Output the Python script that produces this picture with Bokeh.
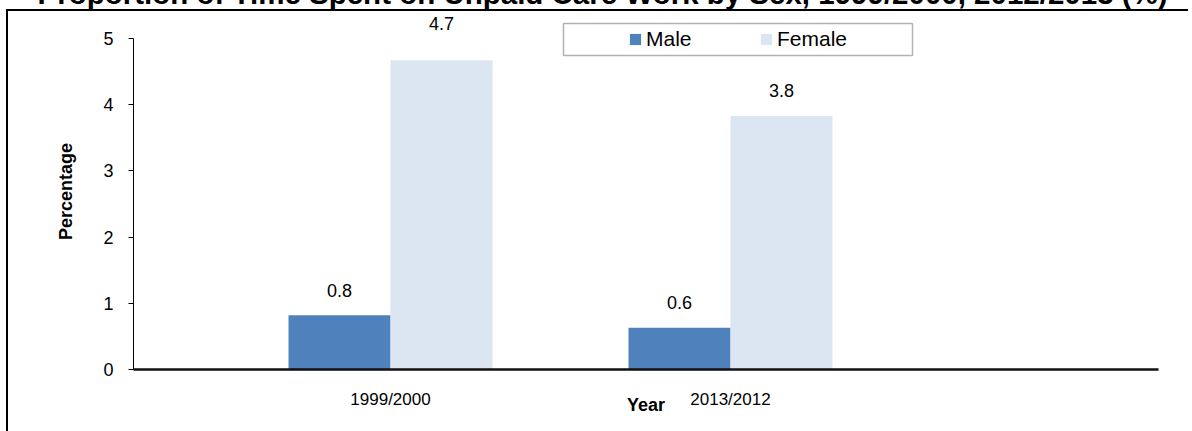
from bokeh.plotting import figure
from bokeh.models import (ColumnDataSource, Range1d, FixedTicker, Legend, LegendItem,
                          BoxAnnotation)
from bokeh.transform import dodge
from bokeh.embed import file_html
from bokeh.resources import INLINE

# ---- data ----
years = ["1999/2000", "2013/2012"]
male = [0.82, 0.63]
female = [4.67, 3.83]
male_labels = ["0.8", "0.6"]
female_labels = ["4.7", "3.8"]
title_text = "Proportion of Time Spent on Unpaid Care Work by Sex, 1999/2000, 2012/2013 (%)"
y_ticks = [0, 1, 2, 3, 4, 5]

# ---- style ----
FONT = "Liberation Sans"
MALE_C = "#4F81BD"
FEMALE_C = "#DCE6F2"
TOP_SHIFT = 30           # page is shifted up so the title is cut like in the reference
W, H = 1192, 431 + TOP_SHIFT
BAR_W = 0.3
male_label_dy = [-25, -25]
female_label_dy = [-37, -25]

idx = list(range(len(years)))
src = ColumnDataSource(dict(x=idx, male=male, female=female,
                            ml=male_labels, fl=female_labels,
                            mdy=male_label_dy, fdy=female_label_dy))

p = figure(width=W, height=H, output_backend="svg", toolbar_location=None,
           x_range=Range1d(-0.756, 2.259), y_range=Range1d(0, 5.3765),
           min_border_left=133, min_border_right=34, min_border_top=42,
           min_border_bottom=62)
p.border_fill_color = None
p.background_fill_color = None
p.styles = {
    "margin-top": f"-{TOP_SHIFT}px",
    "background-color": "white",
    "background-image": "linear-gradient(#000,#000), linear-gradient(#000,#000)",
    "background-repeat": "no-repeat",
    "background-size": f"2px {H - 39}px, 1182px 2px",
    "background-position": "6px 39px, 6px 39px",
}
p.outline_line_color = None
p.xgrid.visible = False
p.ygrid.visible = False

mr = p.vbar(x=dodge("x", -BAR_W / 2, range=p.x_range), top="male", width=BAR_W,
            source=src, fill_color=MALE_C, line_color=None)
fr = p.vbar(x=dodge("x", BAR_W / 2, range=p.x_range), top="female", width=BAR_W,
            source=src, fill_color=FEMALE_C, line_color=None)

for col, lab, dy, off in (("male", "ml", "mdy", -BAR_W / 2), ("female", "fl", "fdy", BAR_W / 2)):
    p.text(x=dodge("x", off, range=p.x_range), y=col, text=lab, y_offset=dy, source=src,
           text_align="center", text_baseline="middle", text_font_size="18px",
           text_font={"value": FONT}, text_color="black")

# title
p.title.text = title_text
p.title.align = "left"
p.title.offset = -96
p.title.text_font = FONT
p.title.text_font_size = "29.5px"
p.title.text_font_style = "bold"
p.title.text_color = "black"
p.title.standoff = 8

# y axis
ya = p.yaxis[0]
ya.ticker = FixedTicker(ticks=y_ticks)
ya.bounds = (0, 5)
ya.major_tick_in = 0
ya.major_tick_out = 5
ya.minor_tick_line_color = None
ya.axis_line_color = "black"
ya.major_tick_line_color = "black"
ya.major_label_text_font = FONT
ya.major_label_text_font_size = "18px"
ya.major_label_text_color = "black"
ya.major_label_standoff = 15
ya.axis_label = "Percentage"
ya.axis_label_text_font = FONT
ya.axis_label_text_font_size = "18px"
ya.axis_label_text_font_style = "bold"
ya.axis_label_text_color = "black"
ya.axis_label_standoff = 24

# x axis
xa = p.xaxis[0]
xa.ticker = FixedTicker(ticks=idx)
xa.major_label_overrides = {i: y for i, y in enumerate(years)}
xa.major_tick_in = 0
xa.major_tick_out = 0
xa.minor_tick_line_color = None
xa.axis_line_color = "#111111"
xa.axis_line_width = 2.5
xa.major_label_text_font = FONT
xa.major_label_text_font_size = "17px"
xa.major_label_text_color = "black"
xa.major_label_standoff = 20
xa.axis_label = "Year"
xa.axis_label_text_font = FONT
xa.axis_label_text_font_size = "18px"
xa.axis_label_text_font_style = "bold"
xa.axis_label_text_color = "black"
xa.axis_label_standoff = -17

# legend
legend = Legend(items=[LegendItem(label="Male", renderers=[mr]),
                       LegendItem(label="Female", renderers=[fr])],
                orientation="horizontal", location=(491, 314),
                border_line_alpha=0, background_fill_alpha=0,
                glyph_width=14, glyph_height=14, label_standoff=4,
                label_width=72, spacing=41, padding=4,
                label_text_font=FONT, label_text_font_size="21px",
                label_text_color="black")
p.add_layout(legend)

# legend frame
p.add_layout(BoxAnnotation(left=563, right=912, top=23 + TOP_SHIFT, bottom=55 + TOP_SHIFT,
                           left_units="canvas", right_units="canvas",
                           top_units="canvas", bottom_units="canvas",
                           fill_alpha=0, line_color="black", line_width=1.5))

open("out.html", "w").write(file_html(p, INLINE))
